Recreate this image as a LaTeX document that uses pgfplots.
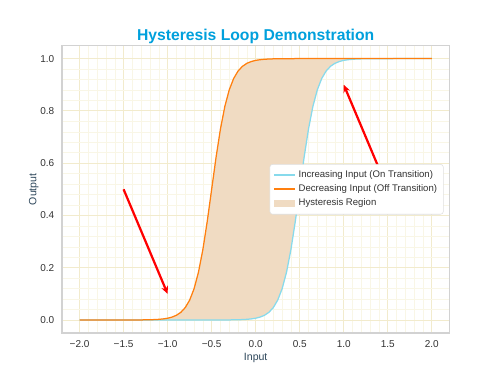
\documentclass[border=0pt]{standalone}
\usepackage{pgfplots}
\pgfplotsset{compat=1.18}
\usepackage{pgfplotstable}
\usepgfplotslibrary{fillbetween}
\usetikzlibrary{arrows.meta}
\usepackage{fontspec}
\setmainfont{Liberation Sans}
\definecolor{titleblue}{RGB}{0,160,220}
\definecolor{incline}{RGB}{135,218,236}
\definecolor{orangeline}{RGB}{255,127,14}
\definecolor{hystfill}{RGB}{240,219,194}
\definecolor{gridmaj}{RGB}{242,235,205}
\definecolor{gridmin}{RGB}{249,246,230}
\definecolor{labelc}{RGB}{45,70,90}
\definecolor{tickc}{RGB}{50,50,50}
\pgfplotstableread{
x inc dec
-2.0 0.0000 0.0000
-1.8 0.0000 0.0000
-1.6 0.0000 0.0000
-1.4 0.0000 0.0001
-1.35 0.0000 0.0002
-1.3 0.0000 0.0003
-1.25 0.0000 0.0006
-1.2 0.0000 0.0009
-1.15 0.0000 0.0015
-1.1 0.0000 0.0025
-1.05 0.0000 0.0041
-1.0 0.0000 0.0067
-0.95 0.0000 0.0111
-0.9 0.0000 0.0180
-0.85 0.0000 0.0293
-0.8 0.0000 0.0474
-0.75 0.0000 0.0759
-0.7 0.0000 0.1192
-0.65 0.0000 0.1824
-0.6 0.0000 0.2689
-0.55 0.0000 0.3775
-0.5 0.0000 0.5000
-0.45 0.0000 0.6225
-0.4 0.0001 0.7311
-0.35 0.0002 0.8176
-0.3 0.0003 0.8808
-0.25 0.0006 0.9241
-0.2 0.0009 0.9526
-0.15 0.0015 0.9707
-0.1 0.0025 0.9820
-0.05 0.0041 0.9889
0.0 0.0067 0.9933
0.05 0.0111 0.9959
0.1 0.0180 0.9975
0.15 0.0293 0.9985
0.2 0.0474 0.9991
0.25 0.0759 0.9994
0.3 0.1192 0.9997
0.35 0.1824 0.9998
0.4 0.2689 0.9999
0.45 0.3775 1.0000
0.5 0.5000 1.0000
0.55 0.6225 1.0000
0.6 0.7311 1.0000
0.65 0.8176 1.0000
0.7 0.8808 1.0000
0.75 0.9241 1.0000
0.8 0.9526 1.0000
0.85 0.9707 1.0000
0.9 0.9820 1.0000
0.95 0.9889 1.0000
1.0 0.9933 1.0000
1.05 0.9959 1.0000
1.1 0.9975 1.0000
1.15 0.9985 1.0000
1.2 0.9991 1.0000
1.25 0.9994 1.0000
1.3 0.9997 1.0000
1.35 0.9998 1.0000
1.4 0.9999 1.0000
1.6 1.0000 1.0000
1.8 1.0000 1.0000
2.0 1.0000 1.0000
}\hyst
\begin{document}
\begin{tikzpicture}
\path (-44.6pt,-30.2pt) rectangle (315.4pt,239.8pt);
\begin{axis}[
  scale only axis,
  width=279pt, height=207pt,
  at={(0pt,0pt)}, anchor=south west,
  xmin=-2.2, xmax=2.2, ymin=-0.05, ymax=1.05,
  xtick={-2,-1.5,-1,-0.5,0,0.5,1,1.5,2}, ytick={0,0.2,0.4,0.6,0.8,1},
  xticklabels={−2.0,−1.5,−1.0,−0.5,0.0,0.5,1.0,1.5,2.0},
  yticklabels={0.0,0.2,0.4,0.6,0.8,1.0},
  minor x tick num=4, minor y tick num=4,
  major tick length=0pt, minor tick length=0pt,
  grid=both,
  major grid style={gridmaj, line width=0.6pt},
  minor grid style={gridmin, line width=0.4pt},
  axis line style={draw=gray!35, line width=0.9pt},
  tick label style={font=\fontsize{7.2}{8}\selectfont, text=tickc},
  xticklabel style={yshift=-2pt},
  yticklabel style={xshift=-2pt},
  xlabel={Input}, ylabel={Output},
  label style={font=\fontsize{7.6}{9}\selectfont, text=labelc},
  xlabel style={yshift=3pt},
  ylabel style={yshift=-5.5pt},
  title={Hysteresis Loop Demonstration},
  title style={font=\fontsize{11.3}{13}\selectfont\bfseries, text=titleblue, yshift=-8pt},
  legend style={at={(0.985,0.5)}, anchor=east, fill=white,
    draw=gray!25, rounded corners=2pt, font=\fontsize{6.9}{8.3}\selectfont,
    row sep=-0.3pt, inner sep=2.5pt},
  legend cell align=left,
]
\addplot[incline, line width=0.9pt, name path=inc, forget plot] table[x=x, y=inc] {\hyst};
\addplot[orangeline, line width=0.9pt, name path=dec, forget plot] table[x=x, y=dec] {\hyst};
\addplot[fill=hystfill, draw=none, forget plot] fill between[of=inc and dec];
\addplot[red, line width=1.6pt, -{Stealth[length=5.5pt,width=5pt]}, forget plot] coordinates {(-1.5,0.5) (-1.0,0.1)};
\addplot[red, line width=1.6pt, -{Stealth[length=5.5pt,width=5pt]}, forget plot] coordinates {(1.5,0.5) (1.0,0.9)};
\addlegendimage{legend image code/.code={\draw[sharp corners, draw=incline, line width=1.2pt] (0pt,0pt) -- (15pt,0pt);}}
\addlegendentry{\textcolor{tickc}{Increasing Input (On Transition)}}
\addlegendimage{legend image code/.code={\draw[sharp corners, draw=orangeline, line width=1.2pt] (0pt,0pt) -- (15pt,0pt);}}
\addlegendentry{\textcolor{tickc}{Decreasing Input (Off Transition)}}
\addlegendimage{legend image code/.code={\fill[sharp corners, fill=hystfill, draw=none] (0pt,-2.6pt) rectangle (15pt,2.6pt);}}
\addlegendentry{\textcolor{tickc}{Hysteresis Region}}
\end{axis}
\end{tikzpicture}
\end{document}
